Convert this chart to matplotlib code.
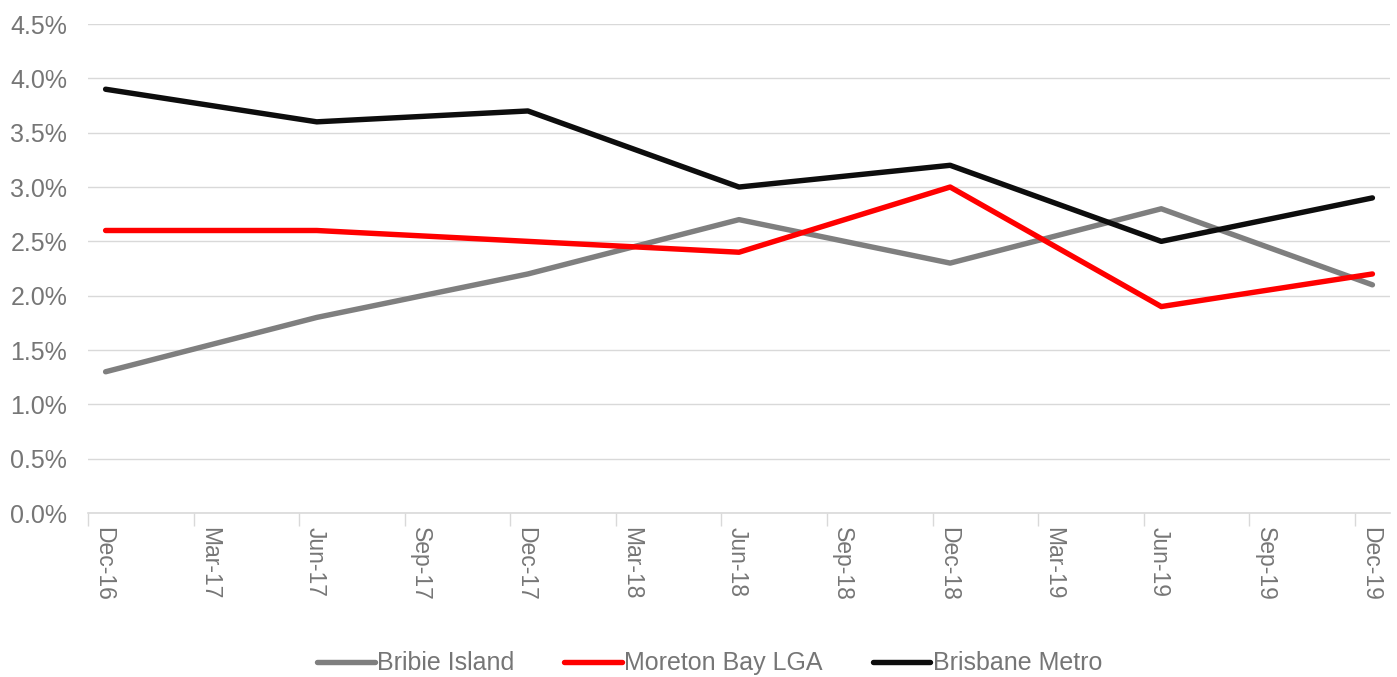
import matplotlib
matplotlib.use("Agg")
import matplotlib.pyplot as plt
from matplotlib.ticker import FixedLocator, NullFormatter, FixedFormatter

plt.rcParams['font.family'] = ['Liberation Sans', 'DejaVu Sans']

tick_labels = ["Dec-16", "Mar-17", "Jun-17", "Sep-17", "Dec-17", "Mar-18", "Jun-18",
               "Sep-18", "Dec-18", "Mar-19", "Jun-19", "Sep-19", "Dec-19"]
# data months since Dec-16 (mid-month)
data_months = [0.5, 6.5, 12.5, 18.5, 24.5, 30.5, 36.5]
bribie = [1.3, 1.8, 2.2, 2.7, 2.3, 2.8, 2.1]
moreton = [2.6, 2.6, 2.5, 2.4, 3.0, 1.9, 2.2]
brisbane = [3.9, 3.6, 3.7, 3.0, 3.2, 2.5, 2.9]

series = [("Bribie Island", bribie, "#7f7f7f"),
          ("Moreton Bay LGA", moreton, "#ff0000"),
          ("Brisbane Metro", brisbane, "#0d0d0d")]

fig = plt.figure(figsize=(13.97, 6.77), dpi=100)
ax = fig.add_axes([0.063, 0.2422, 0.932, 0.7223])

for name, vals, col in series:
    ax.plot(data_months, [v / 100 for v in vals], color=col, lw=3.9, label=name,
            solid_capstyle='round', solid_joinstyle='round')

ax.set_ylim(0, 0.045)
ax.set_xlim(0, 37)
yt = [i * 0.005 for i in range(10)]
ax.set_yticks(yt)
ax.set_yticklabels([f"{v*100:.1f}%" for v in yt])
ax.yaxis.grid(True, color="#d9d9d9", lw=1)
ax.set_axisbelow(True)
ax.tick_params(axis='y', length=0, labelsize=18, labelcolor="#767676", pad=15)

major = [3 * i for i in range(13)]
ax.xaxis.set_major_locator(FixedLocator(major))
ax.xaxis.set_major_formatter(NullFormatter())
ax.xaxis.set_minor_locator(FixedLocator([m + 0.45 for m in major]))
ax.xaxis.set_minor_formatter(FixedFormatter(tick_labels))
ax.tick_params(axis='x', which='major', length=9, color="#d9d9d9", width=1)
ax.tick_params(axis='x', which='minor', length=0, labelsize=16.5, labelcolor="#767676",
               labelrotation=-90, pad=10)

for s in ['top', 'right', 'left']:
    ax.spines[s].set_visible(False)
ax.spines['bottom'].set_color("#d9d9d9")
ax.spines['bottom'].set_linewidth(1.2)

leg = fig.legend(loc='lower center', bbox_to_anchor=(0.508, -0.031), ncol=3, frameon=False,
                 fontsize=18, handlelength=2.3, handletextpad=0.1, columnspacing=2.0)
for t in leg.get_texts():
    t.set_color("#767676")

fig.savefig("out.png", dpi=100)
